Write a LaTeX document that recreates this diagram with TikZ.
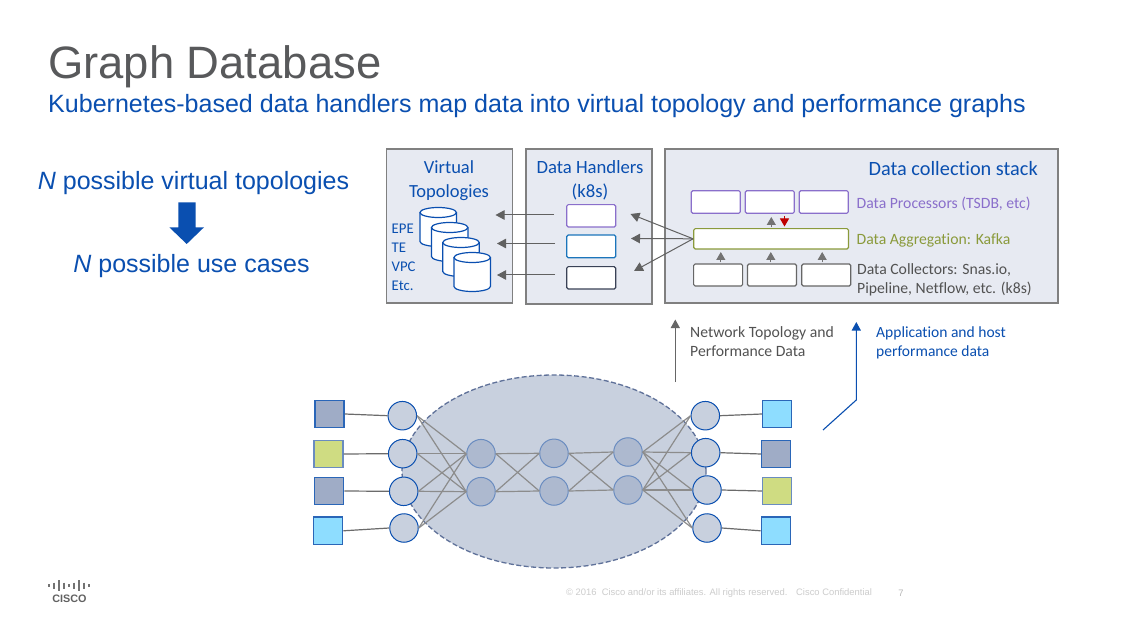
\documentclass[tikz,border=0pt]{standalone}
\usepackage{fontspec}
\setmainfont{Liberation Sans}
\newfontfamily\carl[Ligatures=CommonOff]{Carlito}
\usetikzlibrary{arrows.meta,shapes.geometric,calc}
\definecolor{ciscoblue}{HTML}{0A4FB0}
\definecolor{titlegray}{HTML}{58595B}
\definecolor{panelfill}{HTML}{E7EAF2}
\definecolor{panelline}{HTML}{808080}
\definecolor{purplec}{HTML}{8A6FCB}
\definecolor{bluec}{HTML}{1B75BB}
\definecolor{darkc}{HTML}{3A4256}
\definecolor{olivec}{HTML}{8A9A3B}
\definecolor{collc}{HTML}{666666}
\definecolor{cloudfill}{HTML}{C8D0DE}
\definecolor{cloudline}{HTML}{5F7199}
\definecolor{innerfill}{HTML}{ADB9CF}
\definecolor{innerline}{HTML}{6A8CC0}
\definecolor{sqslate}{HTML}{9FACC6}
\definecolor{sqgreen}{HTML}{CFDC82}
\definecolor{sqcyan}{HTML}{8EDDFF}
\definecolor{sqline}{HTML}{2A66B8}
\tikzset{
  x=1pt,y=-1pt,
  panel/.style={draw=panelline,fill=panelfill,line width=1.2pt},
  slot/.style={draw=#1,fill=white,line width=1.2pt,rounded corners=1.5pt},
  flow/.style={draw=black!62,line width=1pt,-{Triangle[length=9pt,width=9.5pt]}},
  tick/.style={draw=black!55,line width=1pt,-{Triangle[length=8pt,width=9pt]}},
  link/.style={draw=black!45,line width=1.2pt},
  edgelink/.style={draw=black!58,line width=1.2pt},
  lbl/.style={font=\carl\fontsize{15.7}{18}\selectfont,inner sep=0pt,align=left},
  outer/.style={circle,draw=ciscoblue,fill=cloudfill,line width=1pt,minimum size=28.5pt,inner sep=0pt},
  inner/.style={circle,draw=innerline,fill=innerfill,line width=1pt,minimum size=28.5pt,inner sep=0pt},
  sq/.style={draw=#1,line width=1.3pt},
}
\newcommand{\cyl}[2]{%
  \draw[ciscoblue,fill=white,line width=1.2pt] (#1,#2+5) -- (#1,#2+34) arc[start angle=180,end angle=360,x radius=18.2,y radius=-5] -- (#1+36.4,#2+5);
  \draw[ciscoblue,fill=white,line width=1.2pt] (#1+18.2,#2+5) ellipse[x radius=18.2,y radius=5];
}
\begin{document}
\begin{tikzpicture}
\useasboundingbox (0,0) rectangle (1125,631);
\fill[white] (0,0) rectangle (1125,631);
% heading
\node[anchor=west,inner sep=0pt,text=titlegray,font=\fontsize{45.4}{50}\selectfont] (title) at (48,67) {Graph Database};
\node[anchor=west,inner sep=0pt,text=ciscoblue,font=\fontsize{25.05}{28}\selectfont] (sub) at (48,106.5) {Kubernetes-based data handlers map data into virtual topology and performance graphs};
% left statement
\node[text=ciscoblue,inner sep=0pt,font=\fontsize{25}{28}\selectfont] (n1) at (193.5,183.5) {\textit{N} possible virtual topologies};
\node[text=ciscoblue,inner sep=0pt,font=\fontsize{25}{28}\selectfont] (n2) at (191.5,266.5) {\textit{N} possible use cases};
\fill[ciscoblue] (178.3,202.3) -- (195.7,202.3) -- (195.7,227.3) -- (204,227.3) -- (186.7,244) -- (169.3,227.3) -- (178.3,227.3) -- cycle;
% panels
\node[panel,minimum width=126pt,minimum height=154pt,inner sep=0pt] (vt) at (449.5,226) {};
\node[panel,minimum width=126pt,minimum height=155pt,inner sep=0pt] (dh) at (589,226.5) {};
\node[panel,minimum width=393pt,minimum height=154pt,inner sep=0pt] (st) at (861.5,226) {};
\node[lbl,text=ciscoblue,align=center,font=\carl\fontsize{18.5}{24}\selectfont] (vtt) at (449,180.5) {Virtual\\Topologies};
\node[lbl,text=ciscoblue,align=center,font=\carl\fontsize{18.7}{24}\selectfont] (dht) at (590,180.5) {Data Handlers\\(k8s)};
\node[lbl,text=ciscoblue,anchor=east,font=\carl\fontsize{20.3}{22}\selectfont] (stt) at (1038,169) {Data collection stack};
\node[lbl,text=ciscoblue,anchor=north west,font=\carl\fontsize{14.8}{18.8}\selectfont] (usecases) at (391.5,224) {EPE\\TE\\VPC\\Etc.};
% cylinders
\cyl{420}{207.5}
\cyl{431.5}{222.5}
\cyl{442.8}{237.5}
\cyl{454}{252.5}
% handler slots
\node[slot=purplec,minimum width=49pt,minimum height=22.3pt,inner sep=0pt] (h1) at (591.2,215.8) {};
\node[slot=bluec,minimum width=49pt,minimum height=22.7pt,inner sep=0pt] (h2) at (591.2,246.4) {};
\node[slot=darkc,minimum width=49pt,minimum height=22.3pt,inner sep=0pt] (h3) at (591.2,277.8) {};
% stack slots
\node[slot=purplec,minimum width=49pt,minimum height=22.6pt,inner sep=0pt] (p1) at (715.8,202) {};
\node[slot=purplec,minimum width=49pt,minimum height=22.6pt,inner sep=0pt] (p2) at (769.8,202) {};
\node[slot=purplec,minimum width=49pt,minimum height=22.6pt,inner sep=0pt] (p3) at (823.8,202) {};
\node[slot=olivec,minimum width=154.8pt,minimum height=20.3pt,inner sep=0pt] (ag) at (771.1,238.8) {};
\node[slot=collc,minimum width=49pt,minimum height=22pt,inner sep=0pt] (c1) at (718.1,275) {};
\node[slot=collc,minimum width=49pt,minimum height=22pt,inner sep=0pt] (c2) at (772,275) {};
\node[slot=collc,minimum width=49pt,minimum height=22pt,inner sep=0pt] (c3) at (826.2,275) {};
\node[lbl,anchor=west,text=purplec] (lp) at (856.5,204) {Data Processors (TSDB, etc)};
\node[lbl,anchor=west,text=olivec] (la) at (856.5,240.5) {Data Aggregation: Kafka};
\node[lbl,anchor=north west,text=black!68,font=\carl\fontsize{15.7}{19}\selectfont] (lc) at (857,263) {Data Collectors: Snas.io,\\Pipeline, Netflow, etc. (k8s)};
% flows between panels
\coordinate (v1) at (495.5,215); \coordinate (v2) at (497,243.5); \coordinate (v3) at (497,275);
\coordinate (s1) at (554,215); \coordinate (s2) at (555,243.5); \coordinate (s3) at (555,275);
\draw[flow] (s1) -- (v1);
\draw[flow] (s2) -- (v2);
\draw[flow] (s3) -- (v3);
\coordinate (t1) at (630.5,214); \coordinate (t2) at (631,238.5); \coordinate (t3) at (634,271);
\draw[flow] (ag.west) -- (t1);
\draw[flow] (ag.west) -- (t2);
\draw[flow] (ag.west) -- (t3);
% small ticks
\coordinate (u1a) at (771.3,227.5); \coordinate (u1b) at (771.3,217);
\draw[tick] (u1a) -- (u1b);
\coordinate (ra) at (784.5,216); \coordinate (rb) at (784.5,226.5);
\draw[draw=red!75!black,line width=1pt,-{Triangle[length=8pt,width=9pt]}] (ra) -- (rb);
\coordinate (d1a) at (720.8,262.5); \coordinate (d1b) at (720.8,252);
\coordinate (d2a) at (770.8,262.5); \coordinate (d2b) at (770.8,252);
\coordinate (d3a) at (822.2,262.5); \coordinate (d3b) at (822.2,252);
\draw[tick] (d1a) -- (d1b);
\draw[tick] (d2a) -- (d2b);
\draw[tick] (d3a) -- (d3b);
% network
\node[ellipse,draw=cloudline,fill=cloudfill,dash pattern=on 5pt off 2.5pt,line width=1.3pt,minimum width=304pt,minimum height=193pt,inner sep=0pt] (cloud) at (554,471.5) {};
\coordinate (L1c) at (402.3,415.7); \coordinate (L2c) at (402.7,453.7); \coordinate (L3c) at (403.7,491.3); \coordinate (L4c) at (404,528);
\coordinate (R1c) at (705.3,415.7); \coordinate (R2c) at (705.7,452.7); \coordinate (R3c) at (707,490); \coordinate (R4c) at (707,528);
\node[inner] (a1) at (481,453.7) {}; \node[inner] (a2) at (481,491.7) {};
\node[inner] (b1) at (554,453.3) {}; \node[inner] (b2) at (554,491) {};
\node[inner] (d1) at (628,452) {}; \node[inner] (d2) at (628,490) {};
\node[outer] (L1) at (L1c) {}; \node[outer] (L2) at (L2c) {}; \node[outer] (L3) at (L3c) {}; \node[outer] (L4) at (L4c) {};
\node[outer] (R1) at (R1c) {}; \node[outer] (R2) at (R2c) {}; \node[outer] (R3) at (R3c) {}; \node[outer] (R4) at (R4c) {};
\foreach \o in {L1,L2,L3,L4} \foreach \i in {a1,a2} \draw[link] (\o.east) -- (\i.west);
\foreach \o in {R1,R2,R3,R4} \foreach \i in {d1,d2} \draw[link] (\o.west) -- (\i.east);
\foreach \o in {a1,a2} \foreach \i in {b1,b2} \draw[link] (\o.east) -- (\i.west);
\foreach \o in {b1,b2} \foreach \i in {d1,d2} \draw[link] (\o.east) -- (\i.west);
% squares
\node[sq=sqline,fill=sqslate,minimum width=29pt,minimum height=27.4pt,inner sep=0pt] (SL1) at (329.6,414) {};
\node[sq=innerline,fill=sqgreen,minimum width=29pt,minimum height=27.4pt,inner sep=0pt] (SL2) at (328.5,454) {};
\node[sq=sqline,fill=sqslate,minimum width=29pt,minimum height=27.4pt,inner sep=0pt] (SL3) at (329.2,491) {};
\node[sq=sqline,fill=sqcyan,minimum width=29pt,minimum height=27.7pt,inner sep=0pt] (SL4) at (328.2,530.8) {};
\node[sq=sqline,fill=sqcyan,minimum width=29pt,minimum height=27.4pt,inner sep=0pt] (SR1) at (777.3,414) {};
\node[sq=sqline,fill=sqslate,minimum width=29pt,minimum height=27.4pt,inner sep=0pt] (SR2) at (776.2,454) {};
\node[sq=innerline,fill=sqgreen,minimum width=29pt,minimum height=27.4pt,inner sep=0pt] (SR3) at (777.2,491) {};
\node[sq=sqline,fill=sqcyan,minimum width=29pt,minimum height=27.7pt,inner sep=0pt] (SR4) at (775.8,530.8) {};
\draw[edgelink] (SL1.east) -- (L1.west); \draw[edgelink] (SL2.east) -- (L2.west); \draw[edgelink] (SL3.east) -- (L3.west); \draw[edgelink] (SL4.east) -- (L4.west);
\draw[edgelink] (SR1.west) -- (R1.east); \draw[edgelink] (SR2.west) -- (R2.east); \draw[edgelink] (SR3.west) -- (R3.east); \draw[edgelink] (SR4.west) -- (R4.east);
% upward arrows
\coordinate (g0) at (675.3,382); \coordinate (g1) at (675.3,319.5);
\draw[draw=black!60,line width=1pt,-{Triangle[length=8.5pt,width=9pt]}] (g0) -- (g1);
\node[lbl,anchor=north west,text=black!68,font=\carl\fontsize{15.7}{19}\selectfont] (nt) at (690,326) {Network Topology and\\Performance Data};
\coordinate (e0) at (823,430); \coordinate (e1) at (856.3,400); \coordinate (e2) at (856.3,322);
\draw[draw=ciscoblue,line width=1.1pt,-{Triangle[length=8.5pt,width=9pt]}] (e0) -- (e1) -- (e2);
\node[lbl,anchor=north west,text=ciscoblue,font=\carl\fontsize{15.55}{19}\selectfont] (ah) at (876,327) {Application and host\\performance data};
% logo
\foreach \px/\ph in {49/1.5,54/3,59/5.5,64/3,69/1.5,74/3,79/5.5,84/3,89/1.5}
  \draw[black!55,line width=1.6pt] (\px,585.5-\ph) -- (\px,585.5+\ph);
\node[inner sep=0pt,text=black!62,font=\bfseries\fontsize{10.8}{12}\selectfont] (logo) at (69.5,598.8) {CISCO};
% footer
\node[anchor=west,inner sep=0pt,text=black!20,font=\fontsize{9.4}{10}\selectfont] (foot) at (566,593.5) {© 2016 \ Cisco and/or its affiliates. All rights reserved. \ \ Cisco Confidential};
\node[inner sep=0pt,text=black!28,font=\fontsize{9.4}{10}\selectfont] (pg) at (901,593.5) {7};
\end{tikzpicture}
\end{document}
